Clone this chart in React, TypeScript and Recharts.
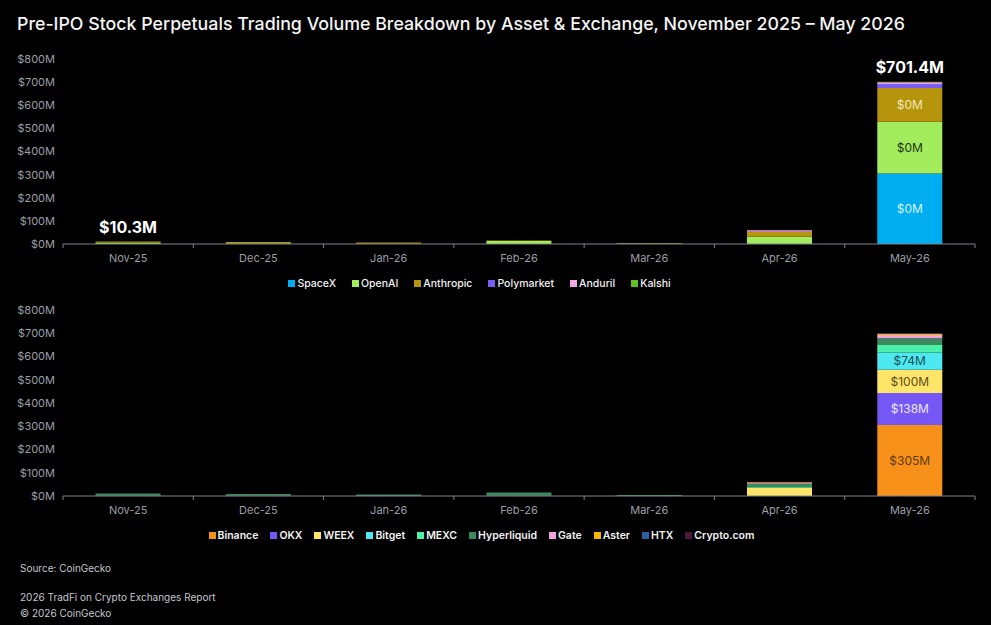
import React from 'react';
import { BarChart, Bar, XAxis, YAxis, Legend, LabelList } from 'recharts';

const months = ['Nov-25', 'Dec-25', 'Jan-26', 'Feb-26', 'Mar-26', 'Apr-26', 'May-26'];
const yTicks = [0, 100, 200, 300, 400, 500, 600, 700, 800];

// by asset, $M
const spacex = [0, 0, 0, 0, 0, 0, 305];
const openai = [6.3, 3, 1, 13, 2, 32, 224];
const anthropic = [4, 6, 5, 2, 2, 20, 146];
const polymarket = [0, 0, 0, 0, 0, 1, 17];
const anduril = [0, 0, 0, 0, 0, 7, 7];
const kalshi = [0, 0, 0, 0, 0, 0, 2.4];

// by exchange, $M
const binance = [0, 0, 0, 0, 0, 0, 305];
const okx = [0, 0, 0, 0, 0, 0, 138];
const weex = [0, 0, 0, 0, 0, 36, 100];
const bitget = [0, 0, 0, 0, 0, 0, 74];
const mexc = [1.3, 1, 0.5, 1.5, 0.5, 3, 32];
const hyperliquid = [9, 8, 5.5, 13.5, 3.5, 14, 30];
const gate = [0, 0, 0, 0, 0, 5, 13];
const aster = [0, 0, 0, 0, 0, 2, 6];
const htx = [0, 0, 0, 0, 0, 0, 2];
const cryptocom = [0, 0, 0, 0, 0, 0, 1.4];

type Series = { key: string; name: string; values: number[]; color: string; labelColor?: string };

const assetSeries: Series[] = [
  { key: 'spacex', name: 'SpaceX', values: spacex, color: '#00adef', labelColor: '#d6f2ff' },
  { key: 'openai', name: 'OpenAI', values: openai, color: '#a2ec5e', labelColor: '#1e3510' },
  { key: 'anthropic', name: 'Anthropic', values: anthropic, color: '#b6940b', labelColor: '#f3e8bd' },
  { key: 'polymarket', name: 'Polymarket', values: polymarket, color: '#7b5cf4' },
  { key: 'anduril', name: 'Anduril', values: anduril, color: '#f2a6e2' },
  { key: 'kalshi', name: 'Kalshi', values: kalshi, color: '#5cc226' },
];

const exchangeSeries: Series[] = [
  { key: 'binance', name: 'Binance', values: binance, color: '#f79019', labelColor: '#5e3a0c' },
  { key: 'okx', name: 'OKX', values: okx, color: '#7457f4', labelColor: '#ece6ff' },
  { key: 'weex', name: 'WEEX', values: weex, color: '#fce568', labelColor: '#5b4d1e' },
  { key: 'bitget', name: 'Bitget', values: bitget, color: '#4ee8f1', labelColor: '#175058' },
  { key: 'mexc', name: 'MEXC', values: mexc, color: '#4cf0a9' },
  { key: 'hyperliquid', name: 'Hyperliquid', values: hyperliquid, color: '#3b8a5f' },
  { key: 'gate', name: 'Gate', values: gate, color: '#f2a2da' },
  { key: 'aster', name: 'Aster', values: aster, color: '#f5b400' },
  { key: 'htx', name: 'HTX', values: htx, color: '#2e5f9f' },
  { key: 'cryptocom', name: 'Crypto.com', values: cryptocom, color: '#4a1a3a' },
];

const buildRows = (series: Series[]) =>
  months.map((m, i) => {
    const row: any = { month: m };
    series.forEach((s) => {
      row[s.key] = s.values[i];
    });
    return row;
  });

const totalsOf = (series: Series[]) => months.map((_, i) => series.reduce((acc, s) => acc + s.values[i], 0));

const FONT = 'Inter, "Noto Sans", sans-serif';
const CHART_W = 991;
const Y_W = 63;
const RIGHT = 16;
const HALF_BAND = (CHART_W - Y_W - RIGHT) / months.length / 2;

const MonthTick = (props: any) => {
  const { x, y, payload, index } = props;
  const axisY = y - 10;
  return (
    <g>
      <line x1={x - HALF_BAND} x2={x - HALF_BAND} y1={axisY} y2={axisY + 4} stroke="#7e838c" />
      {index === months.length - 1 && (
        <line x1={x + HALF_BAND} x2={x + HALF_BAND} y1={axisY} y2={axisY + 4} stroke="#7e838c" />
      )}
      <text x={x} y={y} dy="0.71em" textAnchor="middle" fill="#9a9fa7" fontSize={11} fontFamily={FONT}>
        {payload.value}
      </text>
    </g>
  );
};

const makeLegend = (series: Series[], gap: number, weight: number) => () => (
  <div style={{ height: 26, display: 'flex', justifyContent: 'center', alignItems: 'center', fontFamily: FONT }}>
    {series.map((s) => (
      <span key={s.key} style={{ display: 'inline-flex', alignItems: 'center', marginRight: gap }}>
        <span style={{ width: 7, height: 7, background: s.color, marginRight: 2, display: 'inline-block' }} />
        <span style={{ color: '#f2f2f2', fontSize: 10.5, fontWeight: weight }}>{s.name}</span>
      </span>
    ))}
  </div>
);

const segmentLabel = (color: string, text: (v: number) => string) => (p: any) => {
  const { x, y, width, height, value } = p;
  if (value == null || value < 50) return null;
  return (
    <text x={x + width / 2} y={y + height / 2} dy="0.35em" textAnchor="middle" fill={color} fontSize={12} fontFamily={FONT}>
      {text(value)}
    </text>
  );
};

// total shown above the first and last month, drawn by the topmost non-empty segment
const totalLabel = (series: Series[], si: number, totals: number[]) => (p: any) => {
  const { x, y, width, value } = p;
  const mi = months.indexOf(value);
  if (mi !== 0 && mi !== months.length - 1) return null;
  if (!(series[si].values[mi] > 0)) return null;
  if (series.slice(si + 1).some((s) => s.values[mi] > 0)) return null;
  return (
    <text x={x + width / 2} y={y - 9} textAnchor="middle" fill="#ffffff" fontSize={16} fontWeight={700} fontFamily={FONT}>
      {`$${totals[mi].toFixed(1)}M`}
    </text>
  );
};

interface StackProps {
  series: Series[];
  top: number;
  height: number;
  showTotals?: boolean;
  labelText: (v: number) => string;
  legendGap: number;
  legendWeight: number;
}

const StackChart: React.FC<StackProps> = ({ series, top, height, showTotals, labelText, legendGap, legendWeight }) => {
  const data = buildRows(series);
  const totals = totalsOf(series);
  return (
    <div style={{ position: 'absolute', left: 0, top, width: CHART_W, height }}>
      <BarChart width={CHART_W} height={height} data={data} margin={{ top: 14, right: RIGHT, left: 0, bottom: 0 }} barCategoryGap="25%">
        <XAxis
          dataKey="month"
          height={26}
          axisLine={{ stroke: '#7e838c' }}
          tickLine={false}
          tickSize={4}
          tickMargin={6}
          tick={<MonthTick />}
          interval={0}
        />
        <YAxis
          width={Y_W}
          domain={[0, 800]}
          ticks={yTicks}
          axisLine={false}
          tickLine={false}
          tickFormatter={(v) => `$${v}M`}
          tick={{ fill: '#9a9fa7', fontSize: 11, fontFamily: FONT }}
        />
        <Legend verticalAlign="bottom" content={makeLegend(series, legendGap, legendWeight)} />
        {series.map((s, i) => (
          <Bar key={s.key} dataKey={s.key} name={s.name} stackId="a" fill={s.color} isAnimationActive={false}>
            {s.labelColor && <LabelList dataKey={s.key} content={segmentLabel(s.labelColor, labelText)} />}
            {showTotals && <LabelList dataKey="month" content={totalLabel(series, i, totals)} />}
          </Bar>
        ))}
      </BarChart>
    </div>
  );
};

const App: React.FC = () => {
  return (
    <div style={{ position: 'absolute', left: 0, top: 0, width: 991, height: 625, background: '#000', fontFamily: FONT, overflow: 'hidden' }}>
      <div style={{ position: 'absolute', left: 17, top: 13, color: '#f4f4f4', fontSize: 17.8, fontWeight: 500, whiteSpace: 'nowrap' }}>
        Pre-IPO Stock Perpetuals Trading Volume Breakdown by Asset &amp; Exchange, November 2025 – May 2026
      </div>
      <StackChart series={assetSeries} top={45} height={251} showTotals labelText={() => '$0M'} legendGap={16} legendWeight={500} />
      <StackChart
        series={exchangeSeries}
        top={296}
        height={252}
        labelText={(v) => `$${Math.round(v)}M`}
        legendGap={12}
        legendWeight={600}
      />
      <div style={{ position: 'absolute', left: 20, top: 562, color: '#c4c7cc', fontSize: 10 }}>Source: CoinGecko</div>
      <div style={{ position: 'absolute', left: 20, top: 591, color: '#c4c7cc', fontSize: 10 }}>2026 TradFi on Crypto Exchanges Report</div>
      <div style={{ position: 'absolute', left: 20, top: 607, color: '#c4c7cc', fontSize: 10 }}>© 2026 CoinGecko</div>
    </div>
  );
};

export default App;
